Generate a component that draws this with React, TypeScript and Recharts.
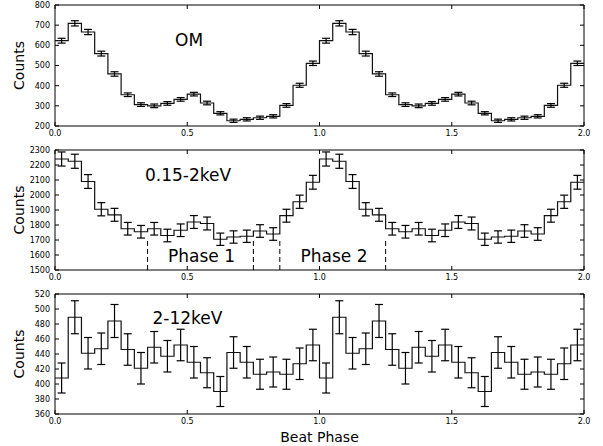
import { ComposedChart, ErrorBar, Line, ReferenceLine, Scatter, XAxis, YAxis } from "recharts";

// one beat cycle, 20 phase bins of width 0.05 (the figure repeats it over 0-2)
const BIN = 0.05;

const omCounts = [623, 709, 666, 559, 458, 355, 306, 300, 312, 332, 358, 314, 263, 226, 233, 241, 248, 302, 402, 511];
const omErrors = [12, 13, 13, 12, 11, 9, 9, 9, 9, 9, 9, 9, 8, 8, 8, 8, 8, 9, 10, 11];

const softCounts = [2240, 2225, 2090, 1905, 1868, 1775, 1755, 1775, 1730, 1765, 1820, 1810, 1705, 1720, 1725, 1760, 1740, 1862, 1955, 2085];
const softErrors = [47, 47, 46, 44, 43, 42, 42, 42, 42, 42, 43, 43, 41, 41, 41, 42, 42, 43, 44, 46];

const hardCounts = [408, 489, 441, 447, 484, 446, 421, 449, 437, 452, 429, 415, 390, 442, 429, 413, 416, 413, 427, 452];
const hardErrors = [20, 22, 21, 21, 22, 21, 21, 21, 21, 21, 21, 20, 20, 21, 21, 20, 20, 20, 21, 21];

const phaseTicks = [0, 0.5, 1, 1.5, 2];
const omTicks = [200, 300, 400, 500, 600, 700, 800];
const softTicks = [1500, 1600, 1700, 1800, 1900, 2000, 2100, 2200, 2300];
const hardTicks = [360, 380, 400, 420, 440, 460, 480, 500, 520];

// dashed phase interval markers in the soft band
const phaseBounds = [0.35, 0.75, 0.85, 1.25];

const twoCycles = (v: number[]) => [...v, ...v];

function stepData(counts: number[]) {
  const v = twoCycles(counts);
  const pts = v.map((y, i) => ({ x: i * BIN, y }));
  pts.push({ x: v.length * BIN, y: v[v.length - 1] });
  return pts;
}

function barData(counts: number[], errors: number[]) {
  const v = twoCycles(counts);
  const e = twoCycles(errors);
  return v.map((y, i) => ({ x: (i + 0.5) * BIN, y, err: e[i] }));
}

const FONT = "DejaVu Sans";
const tickStyle = { fill: "#000", fontSize: 8, fontFamily: FONT };

const countsLabel = (props: any) => {
  const vb = props.viewBox;
  const cx = 19;
  const cy = vb.y + vb.height / 2;
  return (
    <text x={cx} y={cy} dy="0.35em" transform={`rotate(-90 ${cx} ${cy})`} textAnchor="middle"
      fontSize={14} fontFamily={FONT} fill="#000">
      Counts
    </text>
  );
};

interface PanelProps {
  top: number;
  height: number;
  plotTop: number;
  plotBottom: number;
  counts: number[];
  errors: number[];
  domain: [number, number];
  ticks: number[];
  xLabel?: string;
  children?: any;
}

function Panel({ top, height, plotTop, plotBottom, counts, errors, domain, ticks, xLabel, children }: PanelProps) {
  const xAxisH = xLabel ? 30 : 14;
  const margin = {
    top: plotTop - top - 1,
    right: 18,
    left: 0,
    bottom: height - (plotBottom - top) - xAxisH,
  };
  return (
    <div style={{ position: "absolute", left: 0, top }}>
      <ComposedChart width={603} height={height} margin={margin}>
        <XAxis dataKey="x" type="number" domain={[0, 2]} ticks={phaseTicks} interval={0}
          allowDataOverflow tickSize={-4} tickMargin={8} height={xAxisH}
          stroke="#000" tickLine={{ stroke: "#000" }} tick={tickStyle}
          tickFormatter={(v: number) => v.toFixed(1)}
          label={xLabel ? { value: xLabel, position: "insideBottom", offset: 2, fill: "#000", fontSize: 14, fontFamily: FONT } : undefined} />
        <XAxis xAxisId="top" orientation="top" dataKey="x" type="number" domain={[0, 2]} ticks={phaseTicks}
          interval={0} allowDataOverflow tickSize={-4} height={1} stroke="#000" tick={() => <g />} />
        <YAxis type="number" domain={domain} ticks={ticks} interval={0} allowDataOverflow
          tickSize={-4} tickMargin={9} width={55} stroke="#000" tickLine={{ stroke: "#000" }}
          tick={tickStyle} label={{ content: countsLabel }} />
        <YAxis yAxisId="right" orientation="right" type="number" domain={domain} ticks={ticks} interval={0}
          allowDataOverflow tickSize={-4} width={1} stroke="#000" tick={() => <g />} />
        <Line data={stepData(counts)} dataKey="y" type="stepAfter" stroke="#111" strokeWidth={1.2}
          dot={false} activeDot={false} isAnimationActive={false} />
        <Scatter data={barData(counts, errors)} dataKey="y" shape={() => <g />} isAnimationActive={false}>
          <ErrorBar dataKey="err" direction="y" width={4} stroke="#000" strokeWidth={1.2} />
        </Scatter>
        {children}
      </ComposedChart>
    </div>
  );
}

function App() {
  const textProps = { fontSize: 17, fontFamily: FONT, fill: "#000" };
  return (
    <div style={{ position: "absolute", left: 0, top: 0, width: 603, height: 446, background: "#fff" }}>
      <Panel top={0} height={140} plotTop={5} plotBottom={126}
        counts={omCounts} errors={omErrors} domain={[200, 800]} ticks={omTicks} />
      <Panel top={140} height={145} plotTop={150} plotBottom={270}
        counts={softCounts} errors={softErrors} domain={[1500, 2300]} ticks={softTicks}>
        {phaseBounds.map((b) => (
          <ReferenceLine key={b} segment={[{ x: b, y: 1500 }, { x: b, y: 1700 }]}
            stroke="#000" strokeDasharray="5 3" />
        ))}
      </Panel>
      <Panel top={280} height={166} plotTop={294} plotBottom={414}
        counts={hardCounts} errors={hardErrors} domain={[360, 520]} ticks={hardTicks} xLabel="Beat Phase" />
      <svg width={603} height={446} style={{ position: "absolute", left: 0, top: 0, pointerEvents: "none" }}>
        <text x={175} y={46} {...textProps}>OM</text>
        <text x={145} y={181} {...textProps}>0.15-2keV</text>
        <text x={152.5} y={324} {...textProps}>2-12keV</text>
        <text x={168} y={262} {...textProps}>Phase 1</text>
        <text x={300.5} y={262} {...textProps}>Phase 2</text>
      </svg>
    </div>
  );
}

export default App;
